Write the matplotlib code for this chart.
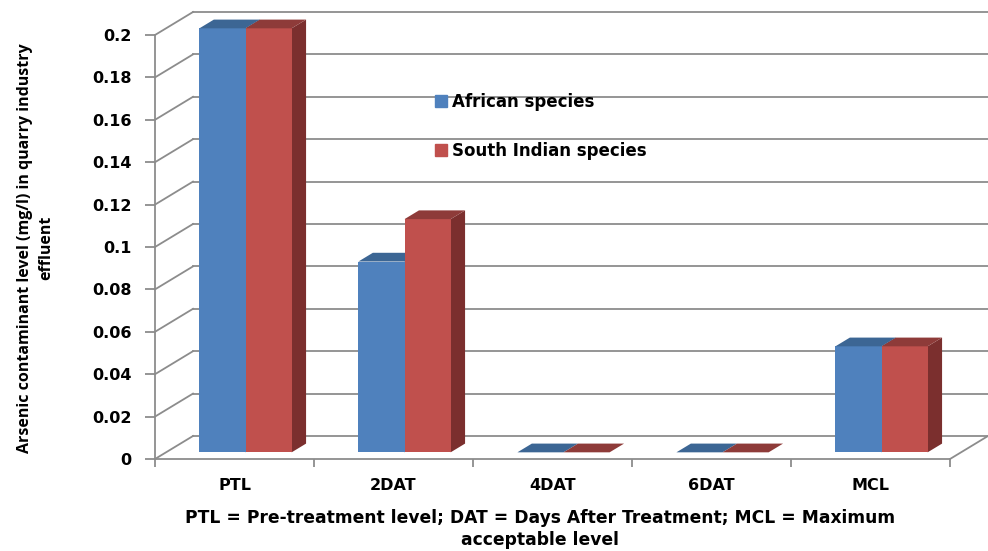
import matplotlib.pyplot as plt
from matplotlib.patches import Polygon
from matplotlib.lines import Line2D

categories = ["PTL", "2DAT", "4DAT", "6DAT", "MCL"]
african = [0.2, 0.09, 0.0, 0.0, 0.05]
south_indian = [0.2, 0.11, 0.0, 0.0, 0.05]
series_names = ["African species", "South Indian species"]
yticks = [0, 0.02, 0.04, 0.06, 0.08, 0.1, 0.12, 0.14, 0.16, 0.18, 0.2]
ytick_labels = ["0", "0.02", "0.04", "0.06", "0.08", "0.1", "0.12", "0.14", "0.16", "0.18", "0.2"]

plt.rcParams['font.family'] = ['DejaVu Sans']
plt.rcParams['font.weight'] = 'bold'

W, H = 988, 551
fig = plt.figure(figsize=(W / 100, H / 100), dpi=100)
# front plane of the 3d box, in pixels
x0px, x1px, y0px, y1px = 155, 950, 459, 35
ax = fig.add_axes([x0px / W, 1 - y0px / H, (x1px - x0px) / W, (y0px - y1px) / H])
ax.set_xlim(-0.5, len(categories) - 0.5)
ax.set_ylim(0, 0.2)

# depth vector (full depth) in pixels, converted to data units
depth_px = (38, 23)
ux = (x1px - x0px) / len(categories)
uy = (y0px - y1px) / 0.2
DX = depth_px[0] / ux
DY = depth_px[1] / uy


def proj(x, v, d):
    return (x + d * DX, v + d * DY)


grid_col = '#8c8c8c'
xl, xr = -0.5, len(categories) - 0.5

# back wall gridlines and left wall diagonals
for v in yticks:
    p, q = proj(xl, v, 1), proj(xr, v, 1)
    ax.plot([p[0], q[0]], [p[1], q[1]], color=grid_col, lw=1.3, clip_on=False, zorder=1)
    ax.plot([xl, p[0]], [v, p[1]], color=grid_col, lw=1.3, clip_on=False, zorder=1)

# floor right edge
p = proj(xr, 0, 1)
ax.plot([xr, p[0]], [0, p[1]], color=grid_col, lw=1.3, clip_on=False, zorder=1)

blue_front, blue_top, blue_side = '#4f81bd', '#3c6694', '#2f5078'
red_front, red_top, red_side = '#c0504d', '#8e3b39', '#7b2f2e'

bw = 0.29
df, db = 0.29, 0.67
for i in range(len(categories)):
    for j, (vals, cols) in enumerate([(african, (blue_front, blue_top, blue_side)),
                                      (south_indian, (red_front, red_top, red_side))]):
        v = vals[i]
        a = i - bw + j * bw
        b = a + bw
        z = 3 + j
        front = [proj(a, 0, df), proj(b, 0, df), proj(b, v, df), proj(a, v, df)]
        side = [proj(b, 0, df), proj(b, 0, db), proj(b, v, db), proj(b, v, df)]
        top = [proj(a, v, df), proj(b, v, df), proj(b, v, db), proj(a, v, db)]
        ax.add_patch(Polygon(side, closed=True, fc=cols[2], ec='none', zorder=z, clip_on=False))
        ax.add_patch(Polygon(front, closed=True, fc=cols[0], ec='none', zorder=z, clip_on=False))
        ax.add_patch(Polygon(top, closed=True, fc=cols[1], ec='none', zorder=z, clip_on=False))

for s in ['top', 'right']:
    ax.spines[s].set_visible(False)
for s in ['left', 'bottom']:
    ax.spines[s].set_color(grid_col)
    ax.spines[s].set_linewidth(1.3)
ax.patch.set_alpha(0)

ax.set_yticks(yticks)
ax.set_yticklabels(ytick_labels, fontsize=11.5, fontweight='bold')
ax.tick_params(axis='y', direction='out', length=7, width=1.3, color=grid_col, pad=10)
ax.set_xticks(range(len(categories)))
ax.set_xticklabels(categories, fontsize=11.5, fontweight='bold')
ax.set_xticks([k - 0.5 for k in range(len(categories) + 1)], minor=True)
ax.tick_params(axis='x', which='major', length=0, pad=14)
ax.tick_params(axis='x', which='minor', direction='out', length=6, width=1.3, color=grid_col)

fig.text(36 / W, 1 - 248 / H, "Arsenic contaminant level (mg/l) in quarry industry\neffluent",
         rotation=90, ha='center', va='center', multialignment='center',
         fontsize=11.5, fontweight='bold', family='Open Sans', linespacing=1.45)
fig.text(540 / W, 1 - 529 / H, "PTL = Pre-treatment level; DAT = Days After Treatment; MCL = Maximum\nacceptable level",
         ha='center', va='center', multialignment='center', fontsize=12.3, fontweight='bold',
         linespacing=1.3)

handles = [Line2D([], [], ls='none', marker='s', markersize=8, color=blue_front),
           Line2D([], [], ls='none', marker='s', markersize=8, color=red_front)]
fig.legend(handles, series_names, loc='upper left', bbox_to_anchor=(434 / W, 1 - 93 / H),
           frameon=False, prop={'size': 12, 'weight': 'bold'}, labelspacing=1.85,
           handlelength=0.8, handletextpad=0.3, borderpad=0, borderaxespad=0)

plt.savefig("out.png", dpi=100)
